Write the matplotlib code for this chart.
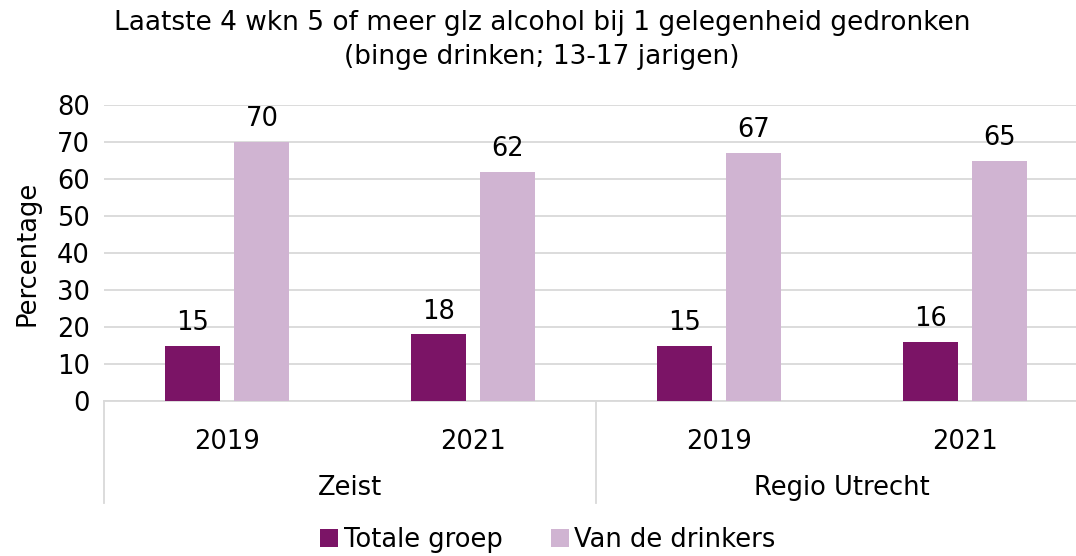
import matplotlib.pyplot as plt
import numpy as np

years = ['2019', '2021', '2019', '2021']
regions = ['Zeist', 'Regio Utrecht']
totale_groep = [15, 18, 15, 16]
van_de_drinkers = [70, 62, 67, 65]

dark = '#7B1466'
light = '#D0B4D2'

plt.rcParams['font.family'] = 'DejaVu Sans'
fs = 18.5

fig = plt.figure(figsize=(10.76, 5.56), dpi=100)
# axes spans x 104..1088 px, y 105..401 px
ax = fig.add_axes([104 / 1076, 1 - 401 / 556, 984 / 1076, 296 / 556])

x = np.arange(len(years))
w = 0.224
off = 0.142
b1 = ax.bar(x - off, totale_groep, w, color=dark, label='Totale groep', zorder=3)
b2 = ax.bar(x + off, van_de_drinkers, w, color=light, label='Van de drinkers', zorder=3)

for bars in (b1, b2):
    for r in bars:
        ax.text(r.get_x() + r.get_width() / 2, r.get_height() + 2.6, '%d' % r.get_height(),
                ha='center', va='bottom', fontsize=fs)

ax.set_xlim(-0.5, len(years) - 0.5)
ax.set_ylim(0, 80)
ax.set_yticks(range(0, 81, 10))
ax.tick_params(axis='y', labelsize=fs, length=0, pad=10)
ax.grid(axis='y', color='#D9D9D9', linewidth=1.3, zorder=0)
ax.set_ylabel('Percentage', fontsize=fs, labelpad=12)

ax.set_xticks(x)
ax.set_xticklabels(years, fontsize=fs)
ax.tick_params(axis='x', length=0, pad=20)

for s in ['top', 'right', 'left']:
    ax.spines[s].set_visible(False)
ax.spines['bottom'].set_color('#D9D9D9')
ax.spines['bottom'].set_linewidth(1.3)

# group separators and labels
trans = ax.get_xaxis_transform()
for xs in [-0.5, 1.5, 3.5]:
    ax.plot([xs, xs], [0, -102 / 296], color='#D9D9D9', lw=1.3, transform=trans, clip_on=False)
for i, reg in enumerate(regions):
    ax.text(2 * i + 0.5, -87 / 296, reg, transform=trans, ha='center', va='center', fontsize=fs)

fig.text(542 / 1076, 1 - 40 / 556,
         'Laatste 4 wkn 5 of meer glz alcohol bij 1 gelegenheid gedronken\n(binge drinken; 13-17 jarigen)',
         ha='center', va='center', fontsize=19, linespacing=1.4)

fig.legend(handles=[b1, b2], loc='center', bbox_to_anchor=(548 / 1076, 1 - 540 / 556), ncol=2,
           frameon=False, fontsize=fs, handlelength=0.7, handleheight=0.7, handletextpad=0.2,
           columnspacing=1.9, borderpad=0)

fig.savefig('out.png', dpi=100)
